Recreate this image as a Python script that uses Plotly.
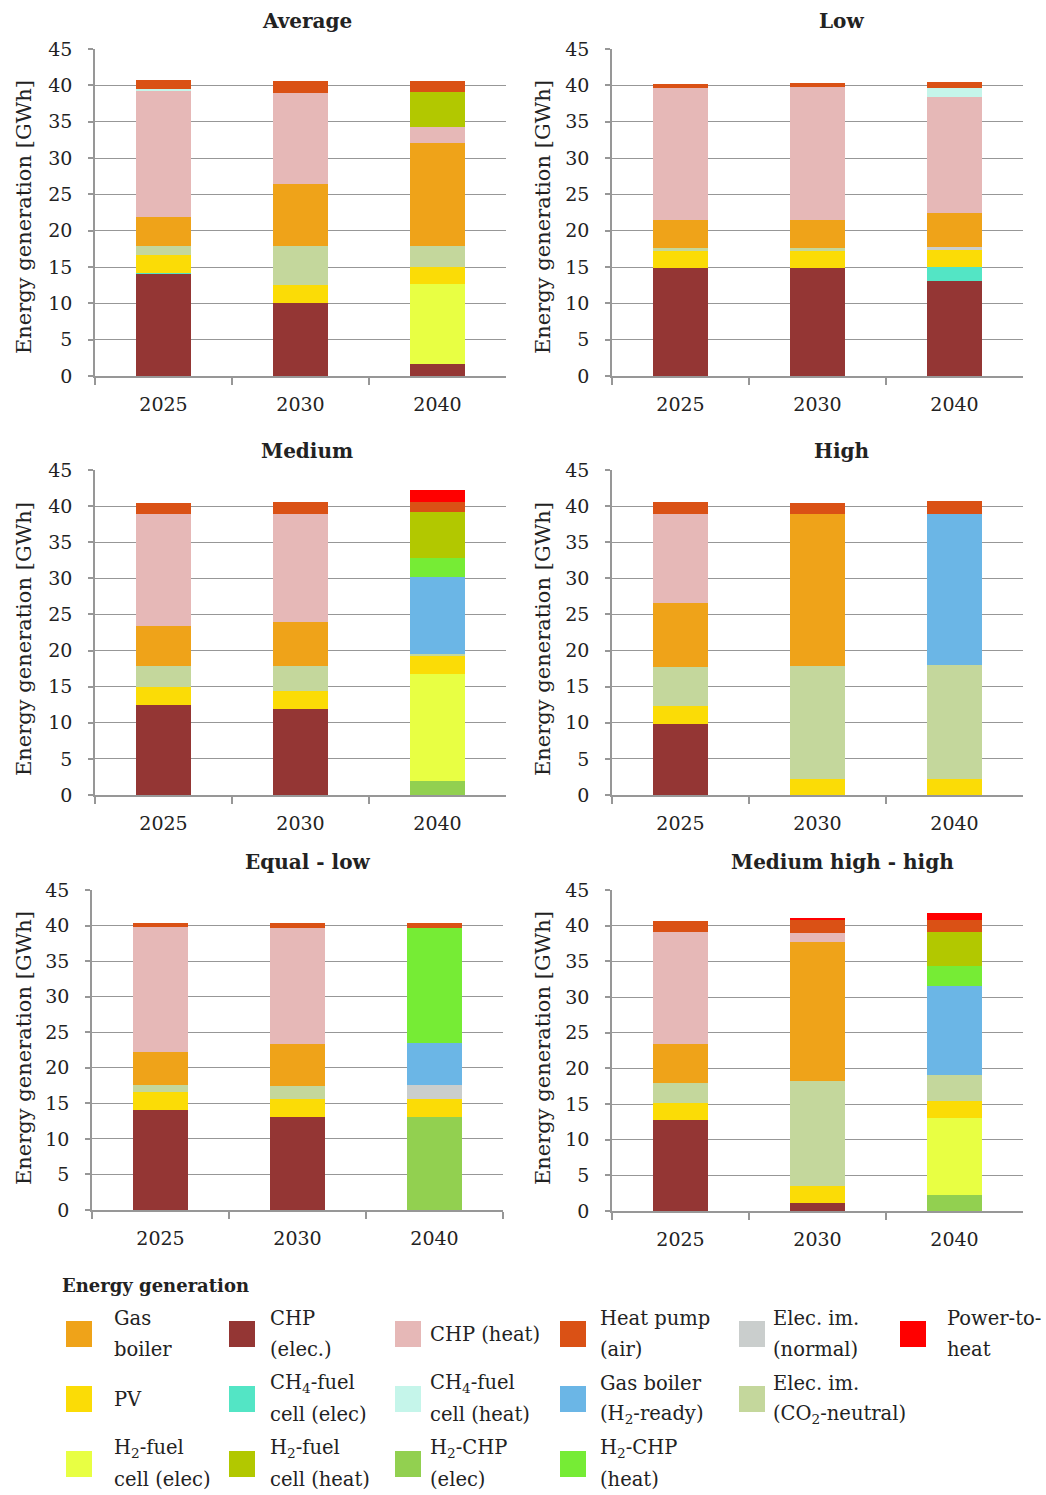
import plotly.graph_objects as go

# ---- data (GWh) ----
years = ["2025", "2030", "2040"]
scenarios = ["Average", "Low", "Medium", "High", "Equal - low", "Medium high - high"]

# one row per scenario (in the order above), one value per year
chp_elec      = [[14.1, 10.1, 1.6], [14.8, 14.8, 13.1], [12.5, 11.9, 0], [9.9, 0, 0], [14.1, 13.1, 0], [12.7, 1.1, 0]]
h2_chp_elec   = [[0, 0, 0], [0, 0, 0], [0, 0, 2.0], [0, 0, 0], [0, 0, 13.1], [0, 0, 2.25]]
h2_fc_elec    = [[0, 0, 11.1], [0, 0, 0], [0, 0, 14.8], [0, 0, 0], [0, 0, 0], [0, 0, 10.8]]
ch4_fc_elec   = [[0.1, 0, 0], [0, 0, 1.9], [0, 0, 0], [0, 0, 0], [0, 0, 0], [0, 0, 0]]
pv            = [[2.4, 2.4, 2.35], [2.35, 2.4, 2.4], [2.4, 2.45, 2.4], [2.45, 2.25, 2.25], [2.45, 2.45, 2.45], [2.4, 2.45, 2.35]]
elec_normal   = [[0, 0, 0], [0, 0, 0.3], [0, 0, 0], [0, 0, 0], [0, 0, 2.05], [0, 0, 0]]
elec_co2      = [[1.3, 5.35, 2.85], [0.4, 0.4, 0], [2.95, 3.5, 0.37], [5.4, 15.6, 15.7], [1.0, 1.9, 0], [2.8, 14.7, 3.6]]
gas_boiler    = [[4.0, 8.55, 14.15], [3.95, 3.9, 4.7], [5.5, 6.15, 0], [8.9, 21.05, 0], [4.7, 5.95, 0], [5.55, 19.4, 0]]
gas_boiler_h2 = [[0, 0, 0], [0, 0, 0], [0, 0, 10.55], [0, 0, 21.0], [0, 0, 5.9], [0, 0, 12.6]]
chp_heat      = [[17.4, 12.5, 2.15], [18.2, 18.3, 16.0], [15.5, 14.9, 0], [12.25, 0, 0], [17.5, 16.25, 0], [15.6, 1.3, 0]]
ch4_fc_heat   = [[0.15, 0, 0], [0, 0, 1.3], [0, 0, 0], [0, 0, 0], [0, 0, 0], [0, 0, 0]]
h2_chp_heat   = [[0, 0, 0], [0, 0, 0], [0, 0, 2.7], [0, 0, 0], [0, 0, 16.2], [0, 0, 2.8]]
h2_fc_heat    = [[0, 0, 4.9], [0, 0, 0], [0, 0, 6.35], [0, 0, 0], [0, 0, 0], [0, 0, 4.65]]
heat_pump     = [[1.3, 1.75, 1.55], [0.55, 0.55, 0.7], [1.65, 1.65, 1.45], [1.65, 1.6, 1.7], [0.65, 0.65, 0.6], [1.55, 1.8, 1.7]]
power_to_heat = [[0, 0, 0], [0, 0, 0], [0, 0, 1.65], [0, 0, 0], [0, 0, 0], [0, 0.3, 1.0]]

y_ticks = [0, 5, 10, 15, 20, 25, 30, 35, 40, 45]

# ---- technologies: stacking order (bottom to top) ----
tech = {
    "CHP (elec.)":               (chp_elec,      "#943634"),
    "H2-CHP (elec)":             (h2_chp_elec,   "#92D050"),
    "H2-fuel cell (elec)":       (h2_fc_elec,    "#E8FF43"),
    "CH4-fuel cell (elec)":      (ch4_fc_elec,   "#53E5C5"),
    "PV":                        (pv,            "#FBDC06"),
    "Elec. im. (normal)":        (elec_normal,   "#CACECD"),
    "Elec. im. (CO2-neutral)":   (elec_co2,      "#C4D79C"),
    "Gas boiler":                (gas_boiler,    "#EFA319"),
    "Gas boiler (H2-ready)":     (gas_boiler_h2, "#6BB6E6"),
    "CHP (heat)":                (chp_heat,      "#E6B8B7"),
    "CH4-fuel cell (heat)":      (ch4_fc_heat,   "#C5F5EA"),
    "H2-CHP (heat)":             (h2_chp_heat,   "#76EC35"),
    "H2-fuel cell (heat)":       (h2_fc_heat,    "#B2C800"),
    "Heat pump (air)":           (heat_pump,     "#DA5115"),
    "Power-to-heat":             (power_to_heat, "#FF0000"),
}

# legend grid (row-major), with display lines
legend_rows = [
    [("Gas boiler", ["Gas", "boiler"]), ("CHP (elec.)", ["CHP", "(elec.)"]), ("CHP (heat)", ["CHP (heat)"]),
     ("Heat pump (air)", ["Heat pump", "(air)"]), ("Elec. im. (normal)", ["Elec. im.", "(normal)"]),
     ("Power-to-heat", ["Power-to-", "heat"])],
    [("PV", ["PV"]), ("CH4-fuel cell (elec)", ["CH<sub>4</sub>-fuel", "cell (elec)"]),
     ("CH4-fuel cell (heat)", ["CH<sub>4</sub>-fuel", "cell (heat)"]),
     ("Gas boiler (H2-ready)", ["Gas boiler", "(H<sub>2</sub>-ready)"]),
     ("Elec. im. (CO2-neutral)", ["Elec. im.", "(CO<sub>2</sub>-neutral)"])],
    [("H2-fuel cell (elec)", ["H<sub>2</sub>-fuel", "cell (elec)"]), ("H2-fuel cell (heat)", ["H<sub>2</sub>-fuel", "cell (heat)"]),
     ("H2-CHP (elec)", ["H<sub>2</sub>-CHP", "(elec)"]), ("H2-CHP (heat)", ["H<sub>2</sub>-CHP", "(heat)"])],
]

# ---- layout geometry (pixels) ----
W, H = 1046, 1495
FONT = "DejaVu Serif"
GRID = "#979797"
TXT = "#222222"


def fx(x):
    return x / W


def fy(y):
    return 1 - y / H


# plot-area boxes: (left, right, top, bottom)
boxes = [(95, 506, 49, 376), (612, 1023, 49, 376),
         (95, 506, 470, 795), (612, 1023, 470, 795),
         (92, 503, 890, 1210), (612, 1023, 890, 1211)]
title_pos = [(307, 21), (841, 21), (307, 451), (841, 451), (307, 862), (842, 862)]
ytitle_pos = [(24, 217), (543, 217), (24, 639), (543, 639), (24, 1048), (543, 1048)]

fig = go.Figure()
layout = dict(
    width=W, height=H, autosize=False,
    margin=dict(l=0, r=0, t=0, b=0, pad=0, autoexpand=False),
    paper_bgcolor="white", plot_bgcolor="white",
    barmode="stack", bargap=0.6, showlegend=False,
    font=dict(family=FONT, size=19, color=TXT),
)
annotations = []
shapes = []

for i, scen in enumerate(scenarios):
    k = "" if i == 0 else str(i + 1)
    for name, (vals, color) in tech.items():
        row = vals[i]
        if not any(row):
            continue
        fig.add_trace(go.Bar(
            x=years, y=row, name=name, marker=dict(color=color, line=dict(width=0)),
            xaxis="x" + k, yaxis="y" + k,
        ))
    l, r, t, b = boxes[i]
    layout["xaxis" + k] = dict(
        domain=[fx(l), fx(r)], anchor="y" + k, type="category", automargin=False,
        showline=True, linecolor=GRID, linewidth=1.5,
        ticks="outside", tickson="boundaries", ticklen=7, tickcolor=GRID, tickwidth=1.5,
        ticklabelstandoff=10, tickfont=dict(size=19, family=FONT, color=TXT),
        showgrid=False, fixedrange=True,
    )
    layout["yaxis" + k] = dict(
        domain=[fy(b), fy(t)], anchor="x" + k, range=[0, 45], automargin=False,
        tickmode="array", tickvals=y_ticks, ticktext=[str(v) for v in y_ticks],
        showline=True, linecolor=GRID, linewidth=1.5,
        ticks="outside", ticklen=5, tickcolor=GRID, tickwidth=1.5,
        ticklabelstandoff=12, tickfont=dict(size=19, family=FONT, color=TXT),
        showgrid=True, gridcolor=GRID, gridwidth=1.3, zeroline=False, fixedrange=True,
    )
    tx, ty = title_pos[i]
    annotations.append(dict(
        text="<b>%s</b>" % scen, x=fx(tx), y=fy(ty), xref="paper", yref="paper",
        xanchor="center", yanchor="middle", showarrow=False,
        font=dict(size=20, family=FONT, color=TXT),
    ))
    ax, ay = ytitle_pos[i]
    annotations.append(dict(
        text="Energy generation [GWh]", x=fx(ax), y=fy(ay), xref="paper", yref="paper",
        xanchor="center", yanchor="middle", textangle=-90, showarrow=False,
        font=dict(size=21, family=FONT, color=TXT),
    ))

# ---- legend drawn as swatches + text ----
annotations.append(dict(
    text="<b>Energy generation</b>", x=fx(60), y=fy(1285), xref="paper", yref="paper",
    xanchor="left", yanchor="middle", showarrow=False,
    font=dict(size=18, family=FONT, color=TXT),
))
sw_x = [66, 229, 395, 560, 739, 900]
tx_x = [112, 268, 428, 598, 771, 945]
row_y = [1334, 1399, 1464]
SW = 26
for r_i, row in enumerate(legend_rows):
    cy = row_y[r_i]
    for c_i, (key, lines) in enumerate(row):
        color = tech[key][1]
        x0 = sw_x[c_i]
        shapes.append(dict(
            type="rect", xref="paper", yref="paper",
            x0=fx(x0), x1=fx(x0 + SW), y0=fy(cy + SW / 2), y1=fy(cy - SW / 2),
            fillcolor=color, line=dict(width=0),
        ))
        offs = [0] if len(lines) == 1 else [-15.5, 15.5]
        for ln, off in zip(lines, offs):
            annotations.append(dict(
                text=ln, x=fx(tx_x[c_i]), y=fy(cy + off), xref="paper", yref="paper",
                xanchor="left", yanchor="middle", showarrow=False,
                font=dict(size=19.5, family=FONT, color=TXT),
            ))

layout["annotations"] = annotations
layout["shapes"] = shapes
fig.update_layout(**layout)
fig.write_html("out.html")
